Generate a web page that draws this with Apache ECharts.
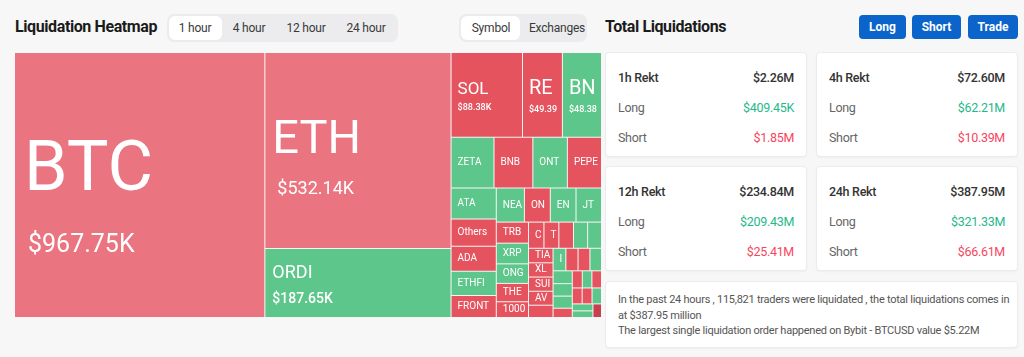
<!DOCTYPE html>
<html>
<head>
<meta charset="utf-8">
<script src="https://cdn.jsdelivr.net/npm/echarts@6/dist/echarts.min.js"></script>
<style>
  html,body{margin:0;padding:0;}
  body{width:1024px;height:357px;background:#f7f7f7;position:relative;overflow:hidden;font-family:Roboto,"Noto Sans",sans-serif;color:#222;}
  .abs{position:absolute;}
  .h1{font-weight:700;font-size:16px;color:#1b1b1b;letter-spacing:-0.4px;line-height:20px;}
  .seg{background:#ececee;border-radius:7px;}
  .pill{background:#fff;border-radius:6px;}
  .segtxt{font-size:12px;color:#3a3a3a;line-height:14px;transform:translateX(-50%);white-space:nowrap;letter-spacing:-0.2px;}
  .btn{background:#0b64c9;border-radius:4px;color:#fff;font-weight:700;font-size:12px;line-height:24px;text-align:center;}
  .card{background:#fff;border-radius:4px;border:1px solid #ececec;box-shadow:0 1px 2px rgba(0,0,0,0.04);box-sizing:border-box;}
  .row{position:absolute;left:12px;right:12px;font-size:12.5px;line-height:16px;letter-spacing:-0.3px;}
  .row .l{position:absolute;left:0;color:#666;}
  .row .r{position:absolute;right:0;}
  .row.t .l{color:#333;font-weight:500;}
  .row.t .r{color:#333;font-weight:500;}
  .g{color:#25b98a;}
  .rd{color:#f6465d;}
  .note{font-size:11px;color:#555;line-height:15.5px;letter-spacing:-0.25px;}
  #chart{position:absolute;left:15px;top:53px;width:586px;height:264px;}
</style>
</head>
<body>
<div class="abs h1" style="left:15px;top:17px;">Liquidation Heatmap</div>
<div class="abs seg" style="left:167px;top:14px;width:231px;height:28px;"></div>
<div class="abs pill" style="left:169px;top:16px;width:53px;height:24px;"></div>
<div class="abs segtxt" style="left:195px;top:21px;">1 hour</div>
<div class="abs segtxt" style="left:249px;top:21px;">4 hour</div>
<div class="abs segtxt" style="left:306px;top:21px;">12 hour</div>
<div class="abs segtxt" style="left:366px;top:21px;">24 hour</div>

<div class="abs seg" style="left:459px;top:14px;width:128px;height:28px;"></div>
<div class="abs pill" style="left:461px;top:16px;width:59px;height:24px;"></div>
<div class="abs segtxt" style="left:491px;top:21px;">Symbol</div>
<div class="abs segtxt" style="left:557px;top:21px;">Exchanges</div>

<div class="abs h1" style="left:605px;top:17px;">Total Liquidations</div>
<div class="abs btn" style="left:859px;top:15px;width:47px;height:24px;">Long</div>
<div class="abs btn" style="left:912px;top:15px;width:49px;height:24px;">Short</div>
<div class="abs btn" style="left:968px;top:15px;width:50px;height:24px;">Trade</div>

<div id="cards"></div>
<div class="abs card" style="left:605px;top:281px;width:413px;height:67px;">
  <div class="abs note" style="left:12px;top:10px;width:395px;">In the past 24 hours , 115,821 traders were liquidated , the total liquidations comes in at $387.95 million<br>The largest single liquidation order happened on Bybit - BTCUSD value $5.22M</div>
</div>

<div id="chart"></div>

<script>
// ---- Treemap data (values in $K) ----
const symbols = ['BTC','ETH','ORDI','SOL','REZ','BNX','ZETA','BNB','ONT','PEPE',
  'ATA','Others','ADA','ETHFI','FRONT','NEAR','ONDO','ENA','JTO',
  'TRB','XRP','ONG','THETA','1000FLOKI','CFX','TAO','WAXP','MSN',
  'WIF','TIA','SUI','XLM','AVAX','ARB','ILV','WOO','WAVES',
  'GALA','1INCH','1000SATS','1000BONK','1000RATS','COMP','MKR','BCH','1000LUNC','DOGE','WLD','OP','LINK','ROSE'];
const liqValues = [967.75,532.14,187.65,88.38,49.39,48.38,31.7,28.7,25.5,25.2,
  20.5,17.9,16.6,15.9,14.6,14.0,12.9,12.8,12.7,
  9.9,9.7,9.2,8.6,7.4,5.9,5.7,5.6,5.4,
  5.3,5.2,5.1,5.1,5.0,4.4,4.2,4.0,3.9,
  3.8,3.6,3.5,3.4,2.6,2.5,2.4,2.4,2.3,2.3,2.2,2.1,2.0,1.7];
// dominant side of liquidations per symbol
const sides = ['shortLight','shortLight','long','short','short','long','long','short','long','short',
  'long','short','short','long','short','long','short','long','long',
  'short','long','long','short','short','short','short','short','long',
  'long','short','short','short','short','short','long','short','short',
  'long','long','long','long','short','short','short','long','short','short','long','long','long','shortDark'];

// ---- Summary cards ----
const cardTitles = ['1h Rekt','4h Rekt','12h Rekt','24h Rekt'];
const cardTotals = ['$2.26M','$72.60M','$234.84M','$387.95M'];
const cardLongs = ['$409.45K','$62.21M','$209.43M','$321.33M'];
const cardShorts = ['$1.85M','$10.39M','$25.41M','$66.61M'];

const sideColor = {long:'#5dc68a', short:'#e5535f', shortLight:'#ea7580', shortDark:'#c8404e'};

(function buildCards(){
  const pos = [[605,52],[816,52],[605,166],[816,166]];
  let html = '';
  for (let i=0;i<4;i++){
    html += '<div class="abs card" style="left:'+pos[i][0]+'px;top:'+pos[i][1]+'px;width:202px;height:105px;">'
      + '<div class="row t" style="top:17px;"><span class="l">'+cardTitles[i]+'</span><span class="r">'+cardTotals[i]+'</span></div>'
      + '<div class="row" style="top:47px;"><span class="l">Long</span><span class="r g">'+cardLongs[i]+'</span></div>'
      + '<div class="row" style="top:77px;"><span class="l">Short</span><span class="r rd">'+cardShorts[i]+'</span></div>'
      + '</div>';
  }
  document.getElementById('cards').innerHTML = html;
})();

// label style tier by value
function tier(v){
  const F = 'Roboto';
  if (v >= 900) return {left:9, block:148, corr:5, two:true,
    rich:{n:{fontSize:70,lineHeight:112,color:'#fff',fontFamily:F},v:{fontSize:25,lineHeight:36,color:'#fff',padding:[0,0,0,4],fontFamily:F}}};
  if (v >= 500) return {left:7, block:98, corr:3.5, two:true,
    rich:{n:{fontSize:47,lineHeight:72,color:'#fff',fontFamily:F},v:{fontSize:18,lineHeight:26,color:'#fff',padding:[0,0,0,5],fontFamily:F}}};
  if (v >= 150) return {left:7, block:52, corr:0.5, two:true,
    rich:{n:{fontSize:18,lineHeight:32,color:'#fff',fontFamily:F},v:{fontSize:14,lineHeight:20,color:'#fff',fontWeight:500,fontFamily:F}}};
  if (v >= 80) return {left:6, block:37, corr:0.5, two:true,
    rich:{n:{fontSize:17,lineHeight:25,color:'#fff',fontFamily:F},v:{fontSize:9,lineHeight:12,color:'#fff',fontWeight:500,fontFamily:F}}};
  if (v >= 40) return {left:6, block:40, corr:0.5, two:true,
    rich:{n:{fontSize:20,lineHeight:28,color:'#fff',fontFamily:F},v:{fontSize:9,lineHeight:12,color:'#fff',fontWeight:500,fontFamily:F}}};
  return {left:6, block:12, corr:0, two:false};
}

function labelFor(v, cellH){
  const t = tier(v);
  const top = cellH == null ? 0 : Math.max(0, (cellH - t.block) / 2 + t.corr);
  const base = {distance:0, padding:[top, 0, 0, t.left]};
  if (t.two) {
    base.formatter = '{n|{b}}\n{v|$' + v.toFixed(2) + 'K}';
    base.rich = t.rich;
  } else {
    base.formatter = '{b}';
    base.fontSize = 10;
    base.lineHeight = 12;
    base.fontFamily = 'Roboto';
  }
  return base;
}

function buildData(heights){
  return symbols.map((s,i)=>({
    name: s,
    value: liqValues[i],
    itemStyle:{color: sideColor[sides[i]]},
    label: labelFor(liqValues[i], heights ? heights[s] : null)
  }));
}

const chart = echarts.init(document.getElementById('chart'), null, {renderer:'canvas'});
chart.setOption({
  animation:false,
  tooltip:{show:false},
  series:[{
    type:'treemap',
    left:0, top:0, right:0, bottom:0,
    roam:false, nodeClick:false,
    breadcrumb:{show:false},
    sort:'desc',
    levels:[{itemStyle:{borderWidth:0, gapWidth:1, borderColor:'#f3f3f3'}}],
    itemStyle:{borderWidth:0},
    upperLabel:{show:false},
    label:{show:true, position:'insideLeft', color:'#fff', fontFamily:'Roboto', overflow:'truncate', ellipsis:''},
    emphasis:{disabled:true},
    data: buildData(null)
  }]
});

// second pass: centre labels vertically using the layout that ECharts computed
try {
  const sm = chart.getModel().getSeriesByIndex(0);
  const root = sm.getData().tree.root;
  const heights = {};
  root.children.forEach(n => { const l = n.getLayout(); if (l) heights[n.name] = l.height; });
  chart.setOption({series:[{data: buildData(heights)}]});
} catch (e) { console.error(e); }
</script>
</body>
</html>
